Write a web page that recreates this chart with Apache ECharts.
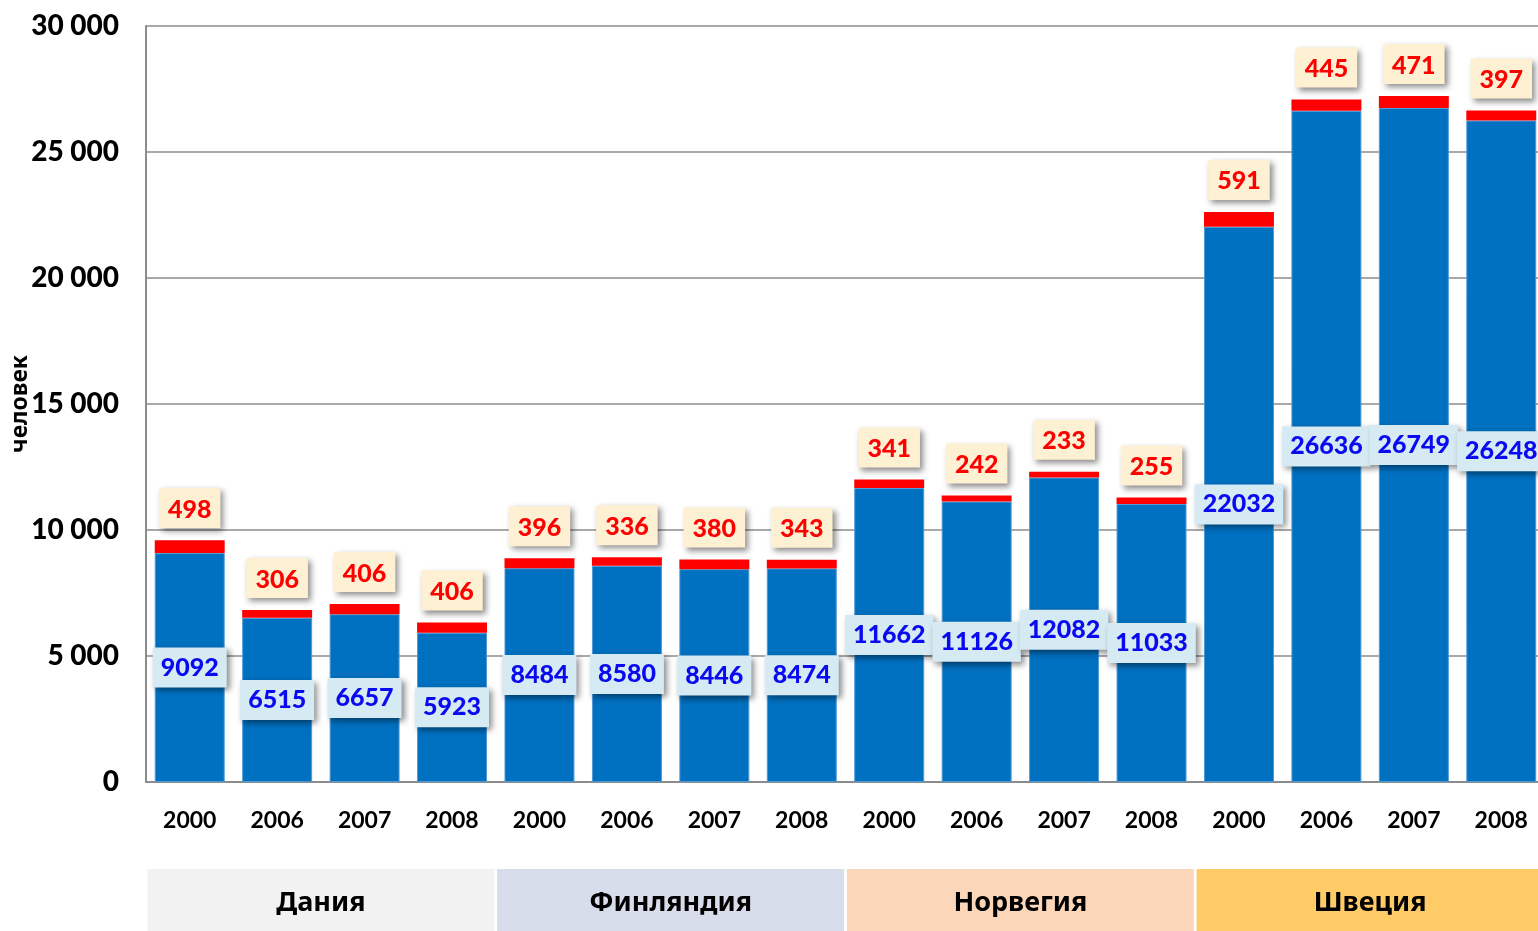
<!DOCTYPE html>
<html>
<head>
<meta charset="utf-8">
<script src="https://cdn.jsdelivr.net/npm/echarts@6/dist/echarts.min.js"></script>
<style>
  html, body { margin: 0; padding: 0; background: #fff; }
  #chart { width: 1538px; height: 931px; }
</style>
</head>
<body>
<div id="chart"></div>
<script>
// данные
const years = ['2000', '2006', '2007', '2008', '2000', '2006', '2007', '2008',
               '2000', '2006', '2007', '2008', '2000', '2006', '2007', '2008'];
const countries = ['Дания', 'Финляндия', 'Норвегия', 'Швеция'];
const countryColors = ['#f2f2f2', '#d7ddea', '#fbd6b8', '#fecb66'];
const mainValues = [9092, 6515, 6657, 5923, 8484, 8580, 8446, 8474,
                    11662, 11126, 12082, 11033, 22032, 26636, 26749, 26248];
const topValues = [498, 306, 406, 406, 396, 336, 380, 343,
                   341, 242, 233, 255, 591, 445, 471, 397];

const numFont = 'Lato, "Open Sans", sans-serif';
const textFont = '"Noto Sans", "Open Sans", sans-serif';

function spaced(v) {
    return String(v).replace(/\B(?=(\d{3})+(?!\d))/g, ' ');
}

const chart = echarts.init(document.getElementById('chart'));

const boxShadow = {
    shadowColor: 'rgba(0,0,0,0.45)',
    shadowBlur: 6,
    shadowOffsetX: 3,
    shadowOffsetY: 3
};

chart.setOption({
    animation: false,
    grid: {
        left: 146, right: -7, top: 26, bottom: 149,
        containLabel: false,
        outerBoundsMode: 'none'
    },
    xAxis: [
        {
            type: 'category',
            data: years,
            axisLine: { lineStyle: { color: '#8c8c8c', width: 2 } },
            axisTick: { show: false },
            axisLabel: {
                interval: 0,
                margin: 27,
                fontFamily: numFont,
                fontWeight: 'bold',
                fontSize: 23,
                color: '#000'
            }
        },
        {
            type: 'category',
            position: 'bottom',
            data: countries.map((c, i) => ({
                value: c,
                textStyle: { backgroundColor: countryColors[i] }
            })),
            axisLine: { show: false },
            axisTick: { show: false },
            splitLine: { show: false },
            axisLabel: {
                interval: 0,
                margin: 87,
                width: 347,
                height: 62,
                lineHeight: 68,
                align: 'center',
                fontFamily: textFont,
                fontWeight: 'bold',
                fontSize: 27,
                color: '#000'
            }
        }
    ],
    yAxis: {
        type: 'value',
        min: 0,
        max: 30000,
        interval: 5000,
        name: 'человек',
        nameLocation: 'middle',
        nameGap: 114,
        nameMoveOverlap: false,
        nameTextStyle: {
            fontFamily: textFont,
            fontWeight: 'bold',
            fontSize: 23,
            color: '#000'
        },
        axisLine: { show: true, lineStyle: { color: '#8c8c8c', width: 2 } },
        axisTick: { show: false },
        splitLine: { lineStyle: { color: '#8c8c8c', width: 1.5 } },
        axisLabel: {
            margin: 27,
            fontFamily: numFont,
            fontWeight: 900,
            fontSize: 28,
            color: '#000',
            formatter: spaced
        }
    },
    series: [
        {
            type: 'bar',
            stack: 'total',
            data: mainValues,
            barCategoryGap: '20%',
            itemStyle: { color: '#0070c0', borderColor: '#4f9ad6', borderWidth: 1 },
            label: {
                show: true,
                position: 'inside',
                fontFamily: numFont,
                fontWeight: 900,
                fontSize: 25,
                color: '#0a0af0',
                backgroundColor: '#d5eaf2',
                padding: [9, 8, 6, 8],
                ...boxShadow
            },
            z: 2
        },
        {
            type: 'bar',
            stack: 'total',
            data: topValues,
            itemStyle: { color: '#ff0000' },
            label: {
                show: true,
                position: 'top',
                distance: 12,
                fontFamily: numFont,
                fontWeight: 900,
                fontSize: 25,
                color: '#ff0000',
                backgroundColor: '#fdf0d3',
                padding: [9, 9, 6, 9],
                ...boxShadow
            },
            z: 3
        }
    ]
});
</script>
</body>
</html>
